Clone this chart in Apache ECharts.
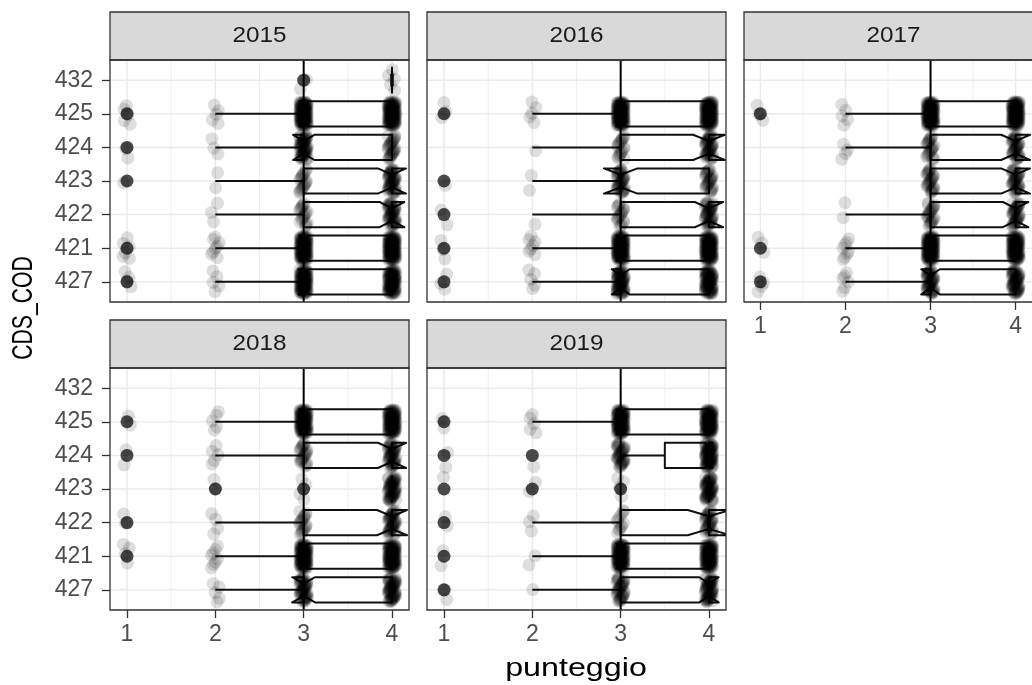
<!DOCTYPE html>
<html>
<head>
<meta charset="utf-8">
<script src="https://cdn.jsdelivr.net/npm/echarts@6/dist/echarts.min.js"></script>
<style>
  html, body { margin: 0; padding: 0; background: #fff; }
  #chart { width: 1032px; height: 685px; }
</style>
</head>
<body>
<div id="chart"></div>
<script>
// Degree programme codes, listed from the bottom of each panel to the top
const categories = ['427', '421', '422', '423', '424', '425', '432'];
const years = ['2015', '2016', '2017', '2018', '2019'];
const scoreTicks = [1, 2, 3, 4];
const scoreMinor = [1.5, 2.5, 3.5];
const referenceScore = 3;

// Notched box statistics per year:
// [code, lower whisker, Q1, median, Q3, upper whisker, notch low, notch high]
const box2015 = [
  ['432', 4, 4, 4, 4, 4, 4, 4],
  ['425', 2, 3, 3, 4, 4, 2.95, 3.05],
  ['424', 2, 3, 3, 4, 4, 2.88, 3.12],
  ['423', 2, 3, 4, 4, 4, 3.84, 4.16],
  ['422', 2, 3, 4, 4, 4, 3.86, 4.14],
  ['421', 2, 3, 3, 4, 4, 2.95, 3.05],
  ['427', 2, 3, 3, 4, 4, 2.94, 3.06]
];
const box2016 = [
  ['425', 2, 3, 3, 4, 4, 2.95, 3.05],
  ['424', 2, 3, 4, 4, 4, 3.82, 4.18],
  ['423', 2, 3, 3, 4, 4, 2.81, 3.19],
  ['422', 2, 3, 4, 4, 4, 3.84, 4.16],
  ['421', 2, 3, 3, 4, 4, 2.95, 3.05],
  ['427', 2, 3, 3, 4, 4, 2.90, 3.10]
];
const box2017 = [
  ['425', 2, 3, 3, 4, 4, 2.95, 3.05],
  ['424', 2, 3, 4, 4, 4, 3.83, 4.17],
  ['423', 3, 3, 4, 4, 4, 3.83, 4.17],
  ['422', 2, 3, 4, 4, 4, 3.85, 4.15],
  ['421', 2, 3, 3, 4, 4, 2.95, 3.05],
  ['427', 2, 3, 3, 4, 4, 2.89, 3.11]
];
const box2018 = [
  ['425', 2, 3, 3, 4, 4, 2.95, 3.05],
  ['424', 2, 3, 4, 4, 4, 3.84, 4.16],
  ['423', 4, 4, 4, 4, 4, 4, 4],
  ['422', 2, 3, 4, 4, 4, 3.83, 4.17],
  ['421', 2, 3, 3, 4, 4, 2.95, 3.05],
  ['427', 2, 3, 3, 4, 4, 2.87, 3.13]
];
const box2019 = [
  ['425', 2, 3, 3, 4, 4, 2.95, 3.05],
  ['424', 3, 3.5, 4, 4, 4, 3.96, 4.04],
  ['423', 4, 4, 4, 4, 4, 4, 4],
  ['422', 2, 3, 4, 4, 4, 3.76, 4.24],
  ['421', 2, 3, 3, 4, 4, 2.95, 3.05],
  ['427', 2, 3, 4, 4, 4, 3.89, 4.11]
];

// Outlying answers per year: [score, code]
const out2015 = [[1, '425'], [1, '424'], [1, '423'], [1, '421'], [1, '427'], [3, '432']];
const out2016 = [[1, '425'], [1, '423'], [1, '422'], [1, '421'], [1, '427']];
const out2017 = [[1, '425'], [1, '421'], [1, '427']];
const out2018 = [[1, '425'], [1, '424'], [1, '422'], [1, '421'], [2, '423'], [3, '423']];
const out2019 = [[1, '425'], [1, '424'], [1, '423'], [1, '422'], [1, '421'], [1, '427'],
                 [2, '424'], [2, '423'], [3, '423']];

// Number of answers with score 1..4, per code (same order as `categories`)
const count2015 = [[4, 5, 100, 90], [6, 8, 110, 110], [0, 3, 20, 50], [1, 2, 20, 50], [2, 3, 60, 30], [5, 5, 110, 110], [0, 0, 2, 5]];
const count2016 = [[3, 5, 70, 80], [3, 7, 110, 110], [2, 1, 20, 45], [1, 2, 40, 30], [0, 1, 20, 45], [3, 5, 110, 110], [0, 0, 0, 0]];
const count2017 = [[4, 6, 50, 60], [3, 8, 110, 100], [0, 2, 25, 40], [0, 0, 30, 40], [0, 4, 25, 40], [3, 5, 110, 110], [0, 0, 0, 0]];
const count2018 = [[0, 5, 50, 60], [4, 8, 100, 100], [2, 4, 20, 45], [0, 2, 4, 60], [2, 5, 25, 50], [2, 5, 100, 100], [0, 0, 0, 0]];
const count2019 = [[2, 1, 40, 60], [2, 2, 100, 100], [2, 3, 12, 35], [1, 2, 4, 60], [2, 1, 40, 80], [2, 5, 100, 100], [0, 0, 0, 0]];

const boxes = [box2015, box2016, box2017, box2018, box2019];
const outliers = [out2015, out2016, out2017, out2018, out2019];
const counts = [count2015, count2016, count2017, count2018, count2019];

// Facet layout (pixels)
const panels = [
  { x: 110, y: 60,  w: 299, h: 242, xLab: false, yLab: true },
  { x: 427, y: 60,  w: 299, h: 242, xLab: false, yLab: false },
  { x: 744, y: 60,  w: 299, h: 242, xLab: true,  yLab: false },
  { x: 110, y: 368, w: 299, h: 242, xLab: true,  yLab: true },
  { x: 427, y: 368, w: 299, h: 242, xLab: true,  yLab: false }
];
const stripH = 48;
const FONT = '"Liberation Sans", Arial, Helvetica, sans-serif';
const catIndex = code => categories.indexOf(code) + 1;
const yTicks = categories.map((c, i) => i + 1);

const chart = echarts.init(document.getElementById('chart'), null, { renderer: 'canvas' });

const grid = [], xAxis = [], yAxis = [], series = [], graphic = [];

// gridline items: [value, orientation (0 vertical / 1 horizontal), major flag]
const gridItems = []
  .concat(scoreMinor.map(v => [v, 0, 0]))
  .concat(scoreTicks.map(v => [v, 0, 1]))
  .concat(yTicks.map(v => [v, 1, 1]));

const PHI = 0.6180339887, PLASTIC = 0.7548776662;
const frac = v => v - Math.floor(v);

panels.forEach((p, i) => {
  grid.push({ left: p.x, top: p.y, width: p.w, height: p.h, show: true,
              backgroundColor: '#fff', borderWidth: 0, containLabel: false });

  xAxis.push({
    gridIndex: i, type: 'value', min: 0.8075, max: 4.1925,
    axisLine: { show: false }, splitLine: { show: false },
    axisTick: { show: p.xLab, customValues: scoreTicks, length: 8,
                lineStyle: { color: '#333', width: 1.3 } },
    axisLabel: { show: p.xLab, customValues: scoreTicks, fontSize: 23, margin: 13,
                 color: '#4d4d4d', fontFamily: FONT }
  });
  yAxis.push({
    gridIndex: i, type: 'value', min: 0.4, max: 7.6,
    axisLine: { show: false }, splitLine: { show: false },
    axisTick: { show: p.yLab, customValues: yTicks, length: 8,
                lineStyle: { color: '#333', width: 1.3 } },
    axisLabel: { show: p.yLab, customValues: yTicks, fontSize: 23, margin: 17,
                 color: '#4d4d4d', fontFamily: FONT,
                 formatter: v => categories[Math.round(v) - 1] }
  });

  // background grid
  series.push({
    type: 'custom', xAxisIndex: i, yAxisIndex: i, z: 1, silent: true,
    data: gridItems, encode: { x: 0 },
    renderItem(params, api) {
      const cs = params.coordSys;
      const v = api.value(0), horiz = api.value(1) === 1, major = api.value(2) === 1;
      const style = { stroke: '#ebebeb', lineWidth: major ? 1.5 : 0.8 };
      if (horiz) {
        const py = api.coord([2, v])[1];
        return { type: 'line', shape: { x1: cs.x, y1: py, x2: cs.x + cs.width, y2: py }, style };
      }
      const px = api.coord([v, 4])[0];
      return { type: 'line', shape: { x1: px, y1: cs.y, x2: px, y2: cs.y + cs.height }, style };
    }
  });

  // notched boxplots
  series.push({
    type: 'custom', xAxisIndex: i, yAxisIndex: i, z: 2, silent: true, clip: true,
    data: boxes[i].map(b => [catIndex(b[0])].concat(b.slice(1))),
    encode: { y: 0, x: [1, 2, 3, 4, 5] },
    renderItem(params, api) {
      const c = api.value(0), lo = api.value(1), q1 = api.value(2), md = api.value(3),
            q3 = api.value(4), hi = api.value(5), nl = api.value(6), nh = api.value(7);
      const hw = 0.375, nw = 0.1875;
      const P = (x, y) => api.coord([x, y]);
      const pts = [P(q1, c + hw), P(nl, c + hw), P(md, c + nw), P(nh, c + hw), P(q3, c + hw),
                   P(q3, c - hw), P(nh, c - hw), P(md, c - nw), P(nl, c - hw), P(q1, c - hw)];
      const line = { stroke: '#111', lineWidth: 2 };
      const children = [];
      if (lo < q1) {
        const a = P(lo, c), b = P(q1, c);
        children.push({ type: 'line', shape: { x1: a[0], y1: a[1], x2: b[0], y2: b[1] }, style: line });
      }
      if (hi > q3) {
        const a = P(q3, c), b = P(hi, c);
        children.push({ type: 'line', shape: { x1: a[0], y1: a[1], x2: b[0], y2: b[1] }, style: line });
      }
      children.push({ type: 'polygon', shape: { points: pts },
                      style: { fill: '#fff', stroke: '#111', lineWidth: 2, lineJoin: 'round' } });
      const m1 = P(md, c - nw), m2 = P(md, c + nw);
      children.push({ type: 'line', shape: { x1: m1[0], y1: m1[1], x2: m2[0], y2: m2[1] },
                      style: { stroke: '#111', lineWidth: 3.5 } });
      return { type: 'group', children };
    }
  });

  // outlying answers
  series.push({
    type: 'scatter', xAxisIndex: i, yAxisIndex: i, z: 3, silent: true,
    symbol: 'circle', symbolSize: 13,
    itemStyle: { color: '#1e1e1e' },
    data: outliers[i].map(o => [o[0], catIndex(o[1])])
  });

  // every answer, jittered around its score / code position
  const jitterData = [];
  counts[i].forEach((row, ci) => row.forEach((n, si) => {
    if (n > 0) jitterData.push([scoreTicks[si], ci + 1, n]);
  }));
  series.push({
    type: 'custom', xAxisIndex: i, yAxisIndex: i, z: 4, silent: true,
    data: jitterData, encode: { x: 0, y: 1 },
    renderItem(params, api) {
      const s = api.value(0), c = api.value(1), n = api.value(2);
      const ctr = api.coord([s, c]);
      const unit = api.size([1, 1]);
      const g = s * 7 + c + i * 3;
      const children = [];
      for (let k = 0; k < n; k++) {
        const fy = frac(0.5 + k * PHI + g * 0.37);
        const fx = frac(0.25 + k * PLASTIC + g * 0.53);
        children.push({
          type: 'circle',
          shape: { cx: ctr[0] + (fx - 0.5) * 2 * 0.045 * unit[0],
                   cy: ctr[1] + (fy - 0.5) * 2 * 0.36 * unit[1], r: 6.5 },
          style: { fill: 'rgba(0,0,0,0.13)' }
        });
      }
      return { type: 'group', children };
    }
  });

  // reference line at score 3
  series.push({
    type: 'custom', xAxisIndex: i, yAxisIndex: i, z: 5, silent: true,
    data: [[referenceScore, 4]], encode: { x: 0, y: 1 },
    renderItem(params, api) {
      const cs = params.coordSys;
      const px = api.coord([api.value(0), 4])[0];
      return { type: 'line', shape: { x1: px, y1: cs.y, x2: px, y2: cs.y + cs.height },
               style: { stroke: '#000', lineWidth: 2 } };
    }
  });

  // strip with the year, and panel border
  graphic.push({
    type: 'rect', z: 100, silent: true,
    shape: { x: p.x, y: p.y - stripH, width: p.w, height: stripH },
    style: { fill: '#d9d9d9', stroke: '#333', lineWidth: 1.3 }
  });
  graphic.push({
    type: 'text', z: 101, silent: true,
    x: p.x + p.w / 2, y: p.y - stripH / 2, scaleX: 1.13,
    style: { text: years[i], font: '21.5px ' + FONT, fill: '#1a1a1a',
             align: 'center', verticalAlign: 'middle',
             textAlign: 'center', textVerticalAlign: 'middle' }
  });
  graphic.push({
    type: 'rect', z: 100, silent: true,
    shape: { x: p.x, y: p.y, width: p.w, height: p.h },
    style: { fill: 'none', stroke: '#333', lineWidth: 1.3 }
  });
});

// axis titles
graphic.push({
  type: 'text', z: 101, silent: true,
  x: 576, y: 669, scaleX: 1.29,
  style: { text: 'punteggio', font: '25px ' + FONT, fill: '#000',
           align: 'center', verticalAlign: 'middle',
           textAlign: 'center', textVerticalAlign: 'middle' }
});
graphic.push({
  type: 'text', z: 101, silent: true,
  x: 24, y: 308, rotation: Math.PI / 2, scaleX: 0.73,
  style: { text: 'CDS_COD', font: '29px ' + FONT, fill: '#000',
           align: 'center', verticalAlign: 'middle',
           textAlign: 'center', textVerticalAlign: 'middle' }
});

chart.setOption({
  animation: false,
  backgroundColor: '#fff',
  grid, xAxis, yAxis, series, graphic
});
</script>
</body>
</html>
